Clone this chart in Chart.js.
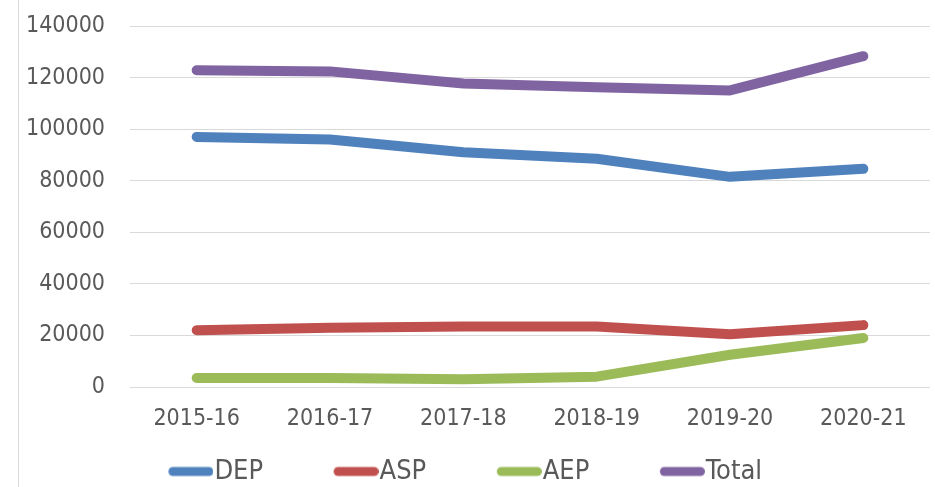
<!DOCTYPE html>
<html>
<head>
<meta charset="utf-8">
<script src="https://cdn.jsdelivr.net/npm/chart.js@4/dist/chart.umd.min.js"></script>
<style>
html,body{margin:0;padding:0;background:#fff;}
#wrap{position:relative;width:935px;height:487px;}
#edge{position:absolute;left:18px;top:0;width:1px;height:487px;background:#d9d9d9;}
canvas{position:absolute;left:0;top:0;}
</style>
</head>
<body>
<div id="wrap"><div id="edge"></div><canvas id="c" width="935" height="487"></canvas></div>
<script>
const categories = ["2015-16","2016-17","2017-18","2018-19","2019-20","2020-21"];
const DEP = [97000, 96000, 91000, 88500, 81500, 84600];
const ASP = [22000, 23000, 23500, 23500, 20500, 24000];
const AEP = [3500, 3500, 3000, 4000, 12500, 19000];
const Total = [122800, 122400, 117700, 116200, 115000, 128300];
const yTicks = [0, 20000, 40000, 60000, 80000, 100000, 120000, 140000];
const seriesNames = ["DEP", "ASP", "AEP", "Total"];
const seriesColors = ["#4f81bd", "#c0504d", "#9bbb59", "#8064a2"];

const font = "'DejaVu Sans Condensed', 'Liberation Sans Narrow', sans-serif";
const LEG_FONT = 27;
const PSW = 95;            // reserved width (includes gap before swatch)
const BAR_W = 45, BAR_H = 9;
const LEGEND_SHIFT = 31;

function swatch(color) {
  const W = Math.round(PSW + 2 * (LEG_FONT / 2 - 1));
  const c = document.createElement('canvas');
  c.width = W; c.height = 12;
  const g = c.getContext('2d');
  g.strokeStyle = color; g.lineWidth = BAR_H; g.lineCap = 'round';
  const r = BAR_H / 2;
  g.beginPath(); g.moveTo(W - BAR_W + r, 6); g.lineTo(W - r, 6); g.stroke();
  return c;
}

const mk = (i, data) => ({
  label: seriesNames[i], data, borderColor: seriesColors[i], backgroundColor: seriesColors[i],
  borderWidth: 10, pointRadius: 0, tension: 0, pointStyle: swatch(seriesColors[i]),
  borderCapStyle: 'round', borderJoinStyle: 'round', fill: false
});

const shiftLegend = {
  id: 'shiftLegend',
  afterLayout(chart) {
    const l = chart.legend;
    if (l) { l.left -= LEGEND_SHIFT; l.right -= LEGEND_SHIFT; }
  }
};

new Chart(document.getElementById('c'), {
  type: 'line',
  data: {
    labels: categories,
    datasets: [mk(0, DEP), mk(1, ASP), mk(2, AEP), mk(3, Total)]
  },
  plugins: [shiftLegend],
  options: {
    responsive: false,
    animation: false,
    layout: { padding: { top: 26, right: 5, left: 0, bottom: -8 } },
    plugins: {
      tooltip: { enabled: false },
      legend: {
        position: 'bottom',
        labels: {
          usePointStyle: true, pointStyleWidth: PSW, boxHeight: 12,
          color: '#595959', font: { family: font, size: LEG_FONT }, padding: 8
        }
      }
    },
    scales: {
      x: {
        offset: true,
        grid: { display: false },
        border: { display: false },
        ticks: { color: '#595959', font: { family: font, size: 23 }, padding: 10 },
        afterFit(s) { s.height = 63; }
      },
      y: {
        min: 0, max: 140000,
        afterBuildTicks(s) { s.ticks = yTicks.map(v => ({ value: v })); },
        grid: { color: '#d9d9d9', lineWidth: 1, drawTicks: false },
        border: { display: false },
        ticks: { color: '#595959', font: { family: font, size: 23 }, padding: 25,
                 callback: v => String(v) },
        afterFit(s) { s.width = 130; s.paddingTop = 0; s.paddingBottom = 0; }
      }
    }
  }
});
</script>
</body>
</html>
